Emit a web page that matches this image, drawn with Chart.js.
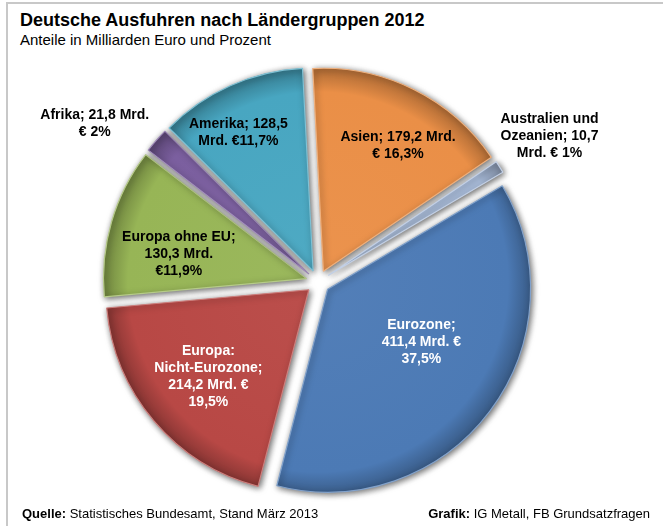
<!DOCTYPE html>
<html lang="de">
<head>
<meta charset="utf-8">
<title>Deutsche Ausfuhren nach Ländergruppen 2012</title>
<script src="https://cdn.jsdelivr.net/npm/chart.js@4.4.1/dist/chart.umd.min.js"></script>
<style>
  html, body { margin: 0; padding: 0; background: #fff; }
  body { width: 663px; height: 526px; position: relative; overflow: hidden;
         font-family: "Liberation Sans", Arial, sans-serif; color: #000; }
  .frame { position: absolute; left: 6px; top: 2px; width: 680px; height: 540px;
           border-top: 2px solid #c8c8c8; border-left: 2px solid #c8c8c8; }
  #title { position: absolute; left: 20px; top: 10px; font-size: 18px; font-weight: bold;
           line-height: 21px; white-space: nowrap; }
  #subtitle { position: absolute; left: 20px; top: 31px; font-size: 15px; line-height: 17px; white-space: nowrap; }
  .foot { position: absolute; top: 506px; font-size: 13px; line-height: 15px; white-space: nowrap; }
  #source { left: 22px; }
  #credit { right: 13px; }
  canvas { position: absolute; left: 0; top: 0; }
</style>
</head>
<body>
<div class="frame"></div>
<div id="title">Deutsche Ausfuhren nach Ländergruppen 2012</div>
<div id="subtitle">Anteile in Milliarden Euro und Prozent</div>
<canvas id="exportChart" width="663" height="526"></canvas>
<div class="foot" id="source"><b>Quelle:</b> Statistisches Bundesamt, Stand März 2013</div>
<div class="foot" id="credit"><b>Grafik:</b> IG Metall, FB Grundsatzfragen</div>

<script>
// Exporte 2012 in Mrd. Euro, Reihenfolge im Uhrzeigersinn ab 12 Uhr
const categories = ['Asien', 'Australien und Ozeanien', 'Eurozone', 'Europa: Nicht-Eurozone',
                    'Europa ohne EU', 'Afrika', 'Amerika'];
const valuesMrd = [179.2, 10.7, 411.4, 214.2, 130.3, 21.8, 128.5];
const shares = ['16,3', '1', '37,5', '19,5', '11,9', '2', '11,7'];

const sliceColors = ['#EA8F47', '#A9BCDA', '#4C7AB5', '#B84845', '#97B556', '#7B5F9F', '#48A6C1'];

const fmt = v => v.toFixed(1).replace('.', ',');

const labelLines = [
    [`${categories[0]}; ${fmt(valuesMrd[0])} Mrd.`, `€ ${shares[0]}%`],
    ['Australien und', `Ozeanien; ${fmt(valuesMrd[1])}`, `Mrd. € ${shares[1]}%`],
    [`${categories[2]};`, `${fmt(valuesMrd[2])} Mrd. €`, `${shares[2]}%`],
    ['Europa:', 'Nicht-Eurozone;', `${fmt(valuesMrd[3])} Mrd. €`, `${shares[3]}%`],
    [`${categories[4]};`, `${fmt(valuesMrd[4])} Mrd.`, `€${shares[4]}%`],
    [`${categories[5]}; ${fmt(valuesMrd[5])} Mrd.`, `€ ${shares[5]}%`],
    [`${categories[6]}; ${fmt(valuesMrd[6])}`, `Mrd. €${shares[6]}%`]
];

// label placement: share of radius and turn (deg) from the slice middle
const labelRadius = [0.72, 1.29, 0.53, 0.655, 0.64, 1.29, 0.776];
const labelTurn = [4.3, 0.1, -7.6, -0.6, -5.5, -6.1, -4.2];
const labelColor = ['#000', '#000', '#fff', '#fff', '#000', '#000', '#000'];

function shade(hex, amt) {
    const n = parseInt(hex.slice(1), 16);
    let r = (n >> 16) & 255, g = (n >> 8) & 255, b = n & 255;
    const f = c => Math.round(amt >= 0 ? c + (255 - c) * amt : c * (1 + amt));
    return `rgb(${f(r)},${f(g)},${f(b)})`;
}

// pull every slice out by the same distance (chart.js offset also grows the radius)
const explodePlugin = {
    id: 'explode',
    afterDatasetsUpdate(chart) {
        const meta = chart.getDatasetMeta(0);
        const area = chart.chartArea;
        const cx = (area.left + area.right) / 2;
        const cy = (area.top + area.bottom) / 2;
        meta.data.forEach(arc => {
            const mid = (arc.startAngle + arc.endAngle) / 2;
            arc.x = cx + Math.cos(mid) * 12;
            arc.y = cy + Math.sin(mid) * 12;
        });
    }
};

const shadowPlugin = {
    id: 'sliceShadow',
    beforeDatasetsDraw(chart) {
        const ctx = chart.ctx;
        ctx.save();
        ctx.shadowColor = 'rgba(0,0,0,0.6)';
        ctx.shadowBlur = 6;
        ctx.shadowOffsetX = 1.5;
        ctx.shadowOffsetY = 1.5;
    },
    afterDatasetsDraw(chart) {
        chart.ctx.restore();
    }
};

const labelPlugin = {
    id: 'sliceLabels',
    afterDraw(chart) {
        const ctx = chart.ctx;
        const meta = chart.getDatasetMeta(0);
        ctx.save();
        ctx.font = 'bold 14px "Liberation Sans", Arial, sans-serif';
        ctx.textAlign = 'center';
        ctx.textBaseline = 'middle';
        meta.data.forEach((arc, i) => {
            const mid = (arc.startAngle + arc.endAngle) / 2 + labelTurn[i] * Math.PI / 180;
            const r = arc.outerRadius * labelRadius[i];
            const x = arc.x + Math.cos(mid) * r;
            const y = arc.y + Math.sin(mid) * r;
            const lines = labelLines[i];
            const lh = 17;
            ctx.fillStyle = labelColor[i];
            lines.forEach((t, k) => {
                ctx.fillText(t, x, y + (k - (lines.length - 1) / 2) * lh);
            });
        });
        ctx.restore();
    }
};

const ctx = document.getElementById('exportChart').getContext('2d');
new Chart(ctx, {
    type: 'pie',
    data: {
        labels: categories,
        datasets: [{
            data: valuesMrd,
            rotation: -3,
            radius: 203,
            backgroundColor: context => {
                const base = sliceColors[context.dataIndex];
                const area = context.chart.chartArea;
                if (!area) return base;
                const cx = (area.left + area.right) / 2;
                const cy = (area.top + area.bottom) / 2;
                const g = context.chart.ctx.createRadialGradient(cx, cy, 0, cx, cy, 216);
                g.addColorStop(0, shade(base, 0.04));
                g.addColorStop(0.88, base);
                g.addColorStop(1, shade(base, -0.28));
                return g;
            },
            borderColor: sliceColors.map(c => shade(c, 0.3)),
            borderWidth: 1.2,
            hoverOffset: 0
        }]
    },
    options: {
        responsive: false,
        animation: false,
        events: [],
        layout: { padding: { left: 60, right: 87, top: 58, bottom: 20 } },
        plugins: {
            legend: { display: false },
            tooltip: { enabled: false }
        }
    },
    plugins: [explodePlugin, shadowPlugin, labelPlugin]
});
</script>
</body>
</html>
